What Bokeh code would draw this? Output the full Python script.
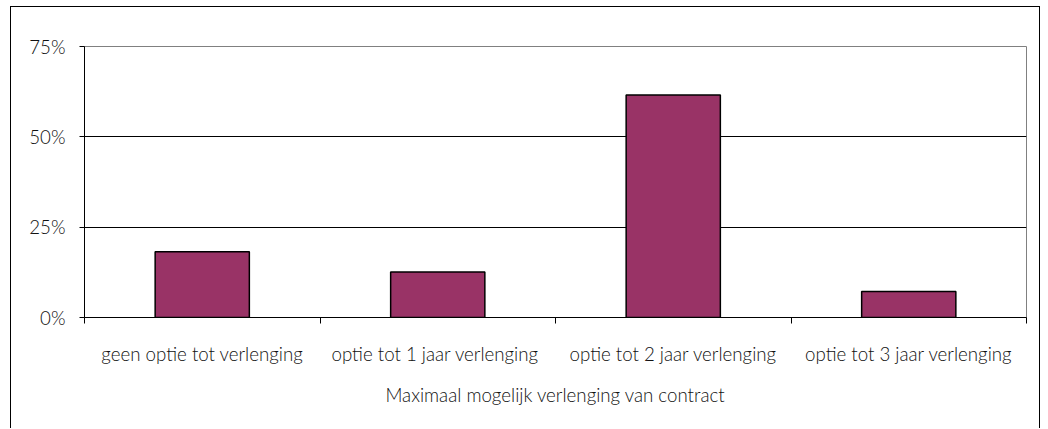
from bokeh.plotting import figure
from bokeh.models import Range1d, FixedTicker, NumeralTickFormatter, ColumnDataSource
from bokeh.embed import file_html
from bokeh.resources import INLINE

categories = ["geen optie tot verlenging", "optie tot 1  jaar verlenging",
              "optie tot 2 jaar verlenging", "optie tot 3 jaar verlenging"]
values = [0.182, 0.126, 0.616, 0.072]
y_ticks = [0, 0.25, 0.5, 0.75]
x_title = "Maximaal mogelijk verlenging van contract"

FONT = "'Lato Light', Lato"
FS = "18.7px"
TXT = "#111111"

xs = [i + 0.5 for i in range(len(categories))]
src = ColumnDataSource(dict(x=xs, top=values))

p = figure(width=1030, height=422, output_backend="svg", toolbar_location=None,
           x_range=Range1d(0, len(categories)), y_range=Range1d(0, 0.75),
           min_border_left=73, min_border_right=15, min_border_top=39, min_border_bottom=112,
           background_fill_color="white", border_fill_color="white")
p.styles = {"border-top": "1px solid black", "border-left": "1px solid black",
            "border-right": "1px solid black", "margin-left": "10px", "margin-top": "6px"}

p.vbar(x="x", top="top", width=0.4, bottom=0, source=src,
       fill_color="#993366", line_color="black", line_width=1.5)

p.outline_line_color = "#808080"
p.outline_line_width = 1

# y axis
p.yaxis.ticker = FixedTicker(ticks=y_ticks)
p.yaxis.formatter = NumeralTickFormatter(format="0%")
p.yaxis.axis_line_color = "black"
p.yaxis.major_tick_line_color = "black"
p.yaxis.major_tick_out = 5
p.yaxis.major_tick_in = 0
p.yaxis.minor_tick_line_color = None
p.yaxis.major_label_text_font = FONT
p.yaxis.major_label_text_font_size = FS
p.yaxis.major_label_text_color = TXT
p.yaxis.major_label_standoff = 14

# x axis
p.xaxis.ticker = FixedTicker(ticks=xs, minor_ticks=list(range(len(categories) + 1)))
p.xaxis.major_label_overrides = {x: c for x, c in zip(xs, categories)}
p.xaxis.axis_line_color = "black"
p.xaxis.major_tick_line_color = None
p.xaxis.major_tick_out = 6
p.xaxis.major_tick_in = 0
p.xaxis.minor_tick_line_color = "black"
p.xaxis.minor_tick_out = 6
p.xaxis.minor_tick_in = 0
p.xaxis.major_label_text_font = FONT
p.xaxis.major_label_text_font_size = FS
p.xaxis.major_label_text_color = TXT
p.xaxis.major_label_standoff = 19
p.xaxis.axis_label = x_title
p.xaxis.axis_label_text_font = FONT
p.xaxis.axis_label_text_font_size = FS
p.xaxis.axis_label_text_font_style = "normal"
p.xaxis.axis_label_text_color = TXT
p.xaxis.axis_label_standoff = 16

p.xgrid.grid_line_color = None
p.ygrid.ticker = FixedTicker(ticks=[0.25, 0.5])
p.ygrid.grid_line_color = "black"
p.ygrid.grid_line_width = 1

open("out.html", "w").write(file_html(p, INLINE))
